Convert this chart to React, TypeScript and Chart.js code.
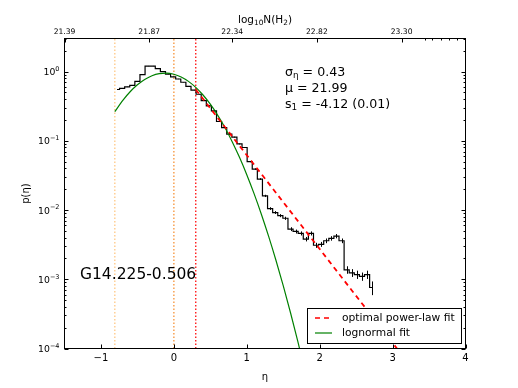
import React, { useEffect, useRef } from "react";
import { Chart, registerables } from "chart.js";

Chart.register(...registerables);

// ---- data ----
const binCenters = [
  -0.78, -0.71, -0.64, -0.57, -0.5, -0.43, -0.36, -0.29, -0.22, -0.15,
  -0.08, -0.01, 0.06, 0.13, 0.2, 0.27, 0.34, 0.41, 0.48, 0.55,
  0.62, 0.69, 0.76, 0.83, 0.9, 0.97, 1.04, 1.11, 1.18, 1.25,
  1.32, 1.39, 1.46, 1.53, 1.6, 1.67, 1.74, 1.81, 1.88, 1.95,
  2.02, 2.09, 2.16, 2.23, 2.3, 2.37, 2.44, 2.51, 2.58, 2.65, 2.72,
];
const binValues = [
  0.55, 0.57, 0.6, 0.63, 0.72, 0.9, 1.2, 1.2, 1.1, 1.0,
  0.92, 0.84, 0.78, 0.7, 0.61, 0.54, 0.47, 0.38, 0.32, 0.27,
  0.19, 0.155, 0.125, 0.113, 0.09, 0.08, 0.05, 0.039, 0.028, 0.016,
  0.0105, 0.0092, 0.0083, 0.0076, 0.0053, 0.0049, 0.0046, 0.0038, 0.0046, 0.0031,
  0.0032, 0.0036, 0.0039, 0.0042, 0.0036, 0.00137, 0.00124, 0.00117, 0.0011, 0.00117, 0.00076,
];
const binErrors = [
  0.0034, 0.0035, 0.0036, 0.0037, 0.0039, 0.0044, 0.005, 0.005, 0.0048, 0.0046,
  0.0044, 0.0042, 0.0041, 0.0038, 0.0036, 0.0034, 0.0032, 0.0028, 0.0026, 0.0024,
  0.002, 0.0018, 0.0016, 0.0015, 0.0014, 0.0013, 0.001, 0.0009, 0.0008, 0.0006,
  0.00047, 0.00044, 0.00042, 0.0004, 0.00034, 0.00032, 0.00031, 0.00028, 0.00031, 0.00026,
  0.00026, 0.00028, 0.00029, 0.0003, 0.00028, 0.00017, 0.00016, 0.00016, 0.00015, 0.00016, 0.00017,
];

const lognormEta = [
  -0.81, -0.7, -0.6, -0.5, -0.4, -0.3, -0.2, -0.1, 0.0, 0.1, 0.2, 0.3, 0.4, 0.5,
  0.6, 0.7, 0.8, 0.9, 1.0, 1.1, 1.2, 1.3, 1.4, 1.5, 1.6, 1.7, 1.8,
];
const lognormP = [
  0.2636, 0.3838, 0.5106, 0.6437, 0.7691, 0.8706, 0.9337, 0.9489, 0.9138, 0.8339,
  0.7209, 0.5905, 0.4585, 0.3373, 0.235, 0.1552, 0.0971, 0.0576, 0.0324, 0.01723,
  0.00869, 0.004154, 0.001881, 0.000808, 0.000328, 0.0001266, 0.0000462,
];

const powerEta = [0.3, 3.06];
const powerP = [0.55, 0.0001];

const vlineEta = [-0.81, 0.0, 0.3];
const vlineColors = ["#ffcb8c", "#f79a45", "#ff1a1a"];

const xTicks = [-1, 0, 1, 2, 3, 4];
const xTickLabels = ["\u22121", "0", "1", "2", "3", "4"];
const yTicks = [1e-4, 1e-3, 1e-2, 1e-1, 1];
const yTickExps = ["\u22124", "\u22123", "\u22122", "\u22121", "0"];
const topTicks = [21.39, 21.87, 22.34, 22.82, 23.3];
const topTickLabels = ["21.39", "21.87", "22.34", "22.82", "23.30"];
const topMinorTicks = [23.43, 23.475, 23.525, 23.57, 23.615];

const X_MIN = -1.5;
const X_MAX = 4;
const TOP_MIN = 21.39;
const TOP_MAX = 23.662;
const Y_MIN = 1e-4;
const Y_MAX = 3;

const FONT = "'DejaVu Sans', 'Liberation Sans', sans-serif";

function drawRich(
  ctx: CanvasRenderingContext2D,
  parts: { t: string; sub?: boolean; sup?: boolean }[],
  x: number,
  baseline: number,
  size: number,
  align: "left" | "center" | "right"
) {
  const small = size * 0.7;
  const widths = parts.map((p) => {
    ctx.font = `${p.sub || p.sup ? small : size}px ${FONT}`;
    return ctx.measureText(p.t).width;
  });
  const total = widths.reduce((s, w) => s + w, 0);
  let cx = align === "left" ? x : align === "center" ? x - total / 2 : x - total;
  ctx.textAlign = "left";
  ctx.textBaseline = "alphabetic";
  parts.forEach((p, i) => {
    ctx.font = `${p.sub || p.sup ? small : size}px ${FONT}`;
    const dy = p.sub ? size * 0.22 : p.sup ? -size * 0.45 : 0;
    ctx.fillText(p.t, cx, baseline + dy);
    cx += widths[i];
  });
}

const overlayPlugin = {
  id: "overlay",
  afterDatasetsDraw(chart: any) {
    const ctx: CanvasRenderingContext2D = chart.ctx;
    const xs = chart.scales.x;
    const xt = chart.scales.x2;
    const ys = chart.scales.y;
    const a = chart.chartArea;
    ctx.save();

    // error bars
    ctx.strokeStyle = "#000";
    ctx.lineWidth = 1;
    binCenters.forEach((c, i) => {
      const px = Math.round(xs.getPixelForValue(c)) + 0.5;
      const hi = ys.getPixelForValue(binValues[i] + binErrors[i]);
      const lo = ys.getPixelForValue(Math.max(binValues[i] - binErrors[i], Y_MIN));
      ctx.beginPath();
      ctx.moveTo(px, hi);
      ctx.lineTo(px, lo);
      ctx.stroke();
    });

    // frame
    ctx.strokeStyle = "#000";
    ctx.lineWidth = 1;
    ctx.strokeRect(a.left, a.top, a.right - a.left, a.bottom - a.top);

    // bottom ticks
    ctx.beginPath();
    xTicks.forEach((t) => {
      const px = Math.round(xs.getPixelForValue(t)) + 0.5;
      ctx.moveTo(px, a.bottom);
      ctx.lineTo(px, a.bottom - 4);
    });
    // top ticks
    topTicks.forEach((t) => {
      const px = Math.round(xt.getPixelForValue(t)) + 0.5;
      ctx.moveTo(px, a.top);
      ctx.lineTo(px, a.top + 4);
    });
    topMinorTicks.forEach((t) => {
      const px = Math.round(xt.getPixelForValue(t)) + 0.5;
      ctx.moveTo(px, a.top);
      ctx.lineTo(px, a.top + 2);
    });
    // y ticks, both sides
    for (let d = -4; d <= 0; d++) {
      for (let m = 1; m <= 9; m++) {
        const v = m * Math.pow(10, d);
        if (v < Y_MIN || v > Y_MAX) continue;
        const py = Math.round(ys.getPixelForValue(v)) + 0.5;
        const len = m === 1 ? 4 : 2;
        ctx.moveTo(a.left, py);
        ctx.lineTo(a.left + len, py);
        ctx.moveTo(a.right, py);
        ctx.lineTo(a.right - len, py);
      }
    }
    ctx.stroke();

    ctx.fillStyle = "#000";
    // bottom tick labels
    ctx.font = `10px ${FONT}`;
    ctx.textAlign = "center";
    ctx.textBaseline = "alphabetic";
    xTicks.forEach((t, i) => {
      ctx.fillText(xTickLabels[i], xs.getPixelForValue(t), a.bottom + 12.5);
    });
    // top tick labels
    ctx.font = `7.6px ${FONT}`;
    topTicks.forEach((t, i) => {
      ctx.fillText(topTickLabels[i], xt.getPixelForValue(t), 34);
    });
    // y tick labels
    yTicks.forEach((t, i) => {
      const py = ys.getPixelForValue(t);
      drawRich(ctx, [{ t: "10" }, { t: yTickExps[i], sup: true }], 59.5, py + 3.5, 9.3, "right");
    });

    // axis labels
    ctx.font = `10px ${FONT}`;
    ctx.textAlign = "center";
    ctx.fillText("\u03b7", (a.left + a.right) / 2, 380);
    ctx.save();
    ctx.translate(28.5, (a.top + a.bottom) / 2);
    ctx.rotate(-Math.PI / 2);
    ctx.fillText("p(\u03b7)", 0, 0);
    ctx.restore();

    // top axis title
    drawRich(
      ctx,
      [{ t: "log" }, { t: "10", sub: true }, { t: "N(H" }, { t: "2", sub: true }, { t: ")" }],
      (a.left + a.right) / 2,
      22.5,
      10.5,
      "center"
    );

    // annotations
    drawRich(ctx, [{ t: "\u03c3" }, { t: "\u03b7", sub: true }, { t: " = 0.43" }], 285, 75.5, 12.6, "left");
    drawRich(ctx, [{ t: "\u03bc = 21.99" }], 285, 91.5, 12.6, "left");
    drawRich(ctx, [{ t: "s" }, { t: "1", sub: true }, { t: " = -4.12 (0.01)" }], 285, 107.5, 12.6, "left");
    drawRich(ctx, [{ t: "G14.225-0.506" }], 80, 278.5, 15.5, "left");

    // legend
    ctx.fillStyle = "#fff";
    ctx.fillRect(307.5, 308.5, 154, 35);
    ctx.strokeStyle = "#000";
    ctx.lineWidth = 1;
    ctx.strokeRect(307.5, 308.5, 154, 35);
    ctx.strokeStyle = "#ff0000";
    ctx.lineWidth = 1.6;
    ctx.setLineDash([5, 4]);
    ctx.beginPath();
    ctx.moveTo(315, 318);
    ctx.lineTo(332, 318);
    ctx.stroke();
    ctx.setLineDash([]);
    ctx.strokeStyle = "#008000";
    ctx.lineWidth = 1.2;
    ctx.beginPath();
    ctx.moveTo(315, 333);
    ctx.lineTo(332, 333);
    ctx.stroke();
    ctx.fillStyle = "#000";
    ctx.font = `10.7px ${FONT}`;
    ctx.textAlign = "left";
    ctx.textBaseline = "middle";
    ctx.fillText("optimal power-law fit", 342, 318);
    ctx.fillText("lognormal fit", 342, 333);

    ctx.restore();
  },
};

export default function App() {
  const canvasRef = useRef<HTMLCanvasElement | null>(null);

  useEffect(() => {
    document.body.style.margin = "0";
    document.body.style.background = "#fff";
    const canvas = canvasRef.current;
    if (!canvas) return;

    const common = { xAxisID: "x", yAxisID: "y", pointRadius: 0, pointHoverRadius: 0, fill: false };
    const datasets: any[] = [
      {
        ...common,
        label: "optimal power-law fit",
        data: powerEta.map((x, i) => ({ x, y: powerP[i] })),
        borderColor: "#ff0000",
        borderWidth: 1.8,
        borderDash: [5, 4],
      },
      {
        ...common,
        label: "lognormal fit",
        data: lognormEta.map((x, i) => ({ x, y: lognormP[i] })),
        borderColor: "#008000",
        borderWidth: 1.2,
        cubicInterpolationMode: "monotone",
      },
      {
        ...common,
        label: "histogram",
        data: binCenters.map((x, i) => ({ x, y: binValues[i] })),
        borderColor: "#000000",
        borderWidth: 1.2,
        stepped: "middle",
      },
      ...vlineEta.map((v, i) => ({
        ...common,
        label: "vline" + i,
        data: [
          { x: v, y: Y_MIN },
          { x: v, y: Y_MAX },
        ],
        borderColor: vlineColors[i],
        borderWidth: 1.4,
        borderDash: [1.5, 2],
      })),
    ];

    const chart = new Chart(canvas, {
      type: "line",
      data: { datasets },
      options: {
        responsive: false,
        animation: false,
        devicePixelRatio: 1,
        layout: { padding: { left: 64.5, right: 52.5, top: 38.5, bottom: 39.5 } },
        scales: {
          x: { type: "linear", min: X_MIN, max: X_MAX, display: false },
          x2: { type: "linear", position: "top", min: TOP_MIN, max: TOP_MAX, display: false },
          y: { type: "logarithmic", min: Y_MIN, max: Y_MAX, display: false },
        },
        plugins: { legend: { display: false }, tooltip: { enabled: false } },
      } as any,
      plugins: [overlayPlugin],
    });
    return () => chart.destroy();
  }, []);

  return (
    <div style={{ width: 518, height: 388, background: "#fff" }}>
      <canvas ref={canvasRef} width={518} height={388} style={{ display: "block" }} />
    </div>
  );
}
